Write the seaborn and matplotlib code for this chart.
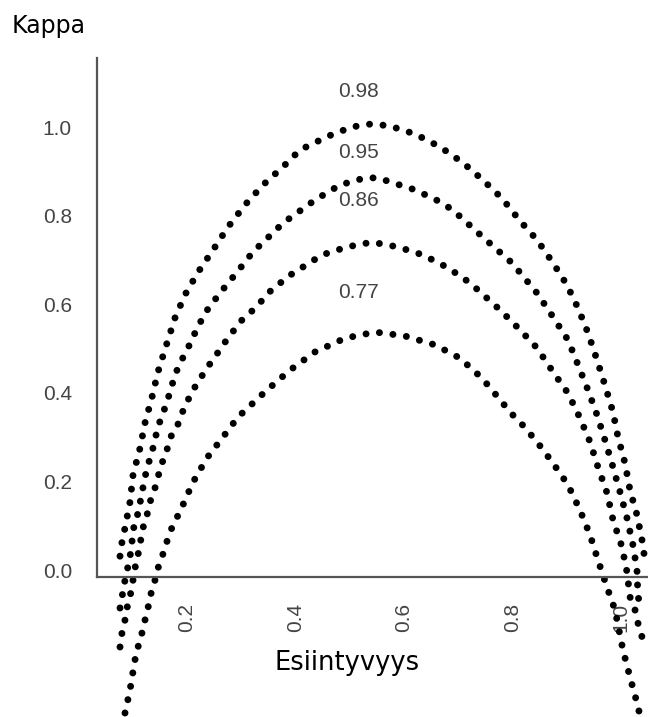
import matplotlib
matplotlib.use("Agg")
import matplotlib.pyplot as plt
from matplotlib.transforms import ScaledTranslation
import seaborn as sns
import pandas as pd

# ---------------- data ----------------
curve_labels = ["0.98", "0.95", "0.86", "0.77"]

prev_098 = [0.0765, 0.0802, 0.0857, 0.0949, 0.1005, 0.1134, 0.1226, 0.1355, 0.1465, 0.1631,
            0.1779, 0.1963, 0.2203, 0.2479, 0.2756, 0.3069, 0.3401, 0.3770, 0.4083, 0.4599,
            0.5041, 0.5410, 0.5742, 0.6203, 0.6664, 0.7088, 0.7456, 0.7806, 0.8138, 0.8452,
            0.8747, 0.9005, 0.9208, 0.9392, 0.9558, 0.9705, 0.9853, 0.9945, 1.0074, 1.0166,
            1.0295, 1.0387, 1.0442]
kappa_098 = [0.047, 0.079, 0.111, 0.169, 0.230, 0.291, 0.348, 0.406, 0.463, 0.528,
             0.585, 0.637, 0.688, 0.738, 0.790, 0.840, 0.885, 0.926, 0.964, 0.995,
             1.016, 1.023, 1.018, 1.000, 0.971, 0.935, 0.896, 0.855, 0.804, 0.761,
             0.709, 0.659, 0.607, 0.551, 0.490, 0.433, 0.372, 0.316, 0.257, 0.196,
             0.140, 0.084, 0.038]

prev_095 = [0.0765, 0.0802, 0.0857, 0.0949, 0.0986, 0.1005, 0.1078, 0.1134, 0.1226, 0.1281,
            0.1355, 0.1465, 0.1558, 0.1631, 0.1779, 0.1871, 0.2000, 0.2111, 0.2332, 0.2608,
            0.2922, 0.3217, 0.3585, 0.3770, 0.4359, 0.4820, 0.5281, 0.5521, 0.5742, 0.6203,
            0.6664, 0.6903, 0.7456, 0.7991, 0.8452, 0.8747, 0.9023, 0.9208, 0.9392, 0.9558,
            0.9705, 0.9853, 0.9982, 1.0111, 1.0221, 1.0295, 1.0313, 1.0406]
kappa_095 = [-0.070, -0.045, -0.007, 0.045, 0.079, 0.106, 0.135, 0.167, 0.226, 0.253,
             0.282, 0.339, 0.370, 0.395, 0.456, 0.483, 0.512, 0.542, 0.596, 0.641,
             0.688, 0.734, 0.777, 0.799, 0.851, 0.885, 0.901, 0.901, 0.892, 0.874,
             0.847, 0.828, 0.767, 0.709, 0.641, 0.587, 0.535, 0.479, 0.422, 0.366,
             0.309, 0.248, 0.192, 0.133, 0.072, 0.016, -0.045, -0.074]

prev_086 = [0.0765, 0.0802, 0.0857, 0.0894, 0.0949, 0.1005, 0.1041, 0.1097, 0.1189, 0.1263,
            0.1318, 0.1410, 0.1465, 0.1539, 0.1631, 0.1687, 0.1816, 0.1908, 0.2000, 0.2111,
            0.2369, 0.2516, 0.2664, 0.2829, 0.2977, 0.3161, 0.3346, 0.3493, 0.3677, 0.3843,
            0.4488, 0.4949, 0.5410, 0.5889, 0.6350, 0.6811, 0.7217, 0.7770, 0.8138, 0.8452,
            0.8747, 0.9023, 0.9244, 0.9429, 0.9576, 0.9742, 0.9853, 1.0018, 1.0111, 1.0166,
            1.0258, 1.0313, 1.0387]
kappa_086 = [-0.158, -0.126, -0.097, -0.070, -0.045, -0.007, 0.020, 0.050, 0.111, 0.140,
             0.169, 0.201, 0.226, 0.257, 0.287, 0.314, 0.339, 0.370, 0.395, 0.422,
             0.472, 0.497, 0.524, 0.551, 0.576, 0.596, 0.619, 0.641, 0.659, 0.677,
             0.727, 0.745, 0.756, 0.745, 0.727, 0.698, 0.664, 0.603, 0.558, 0.517,
             0.463, 0.415, 0.359, 0.305, 0.248, 0.190, 0.129, 0.068, 0.011, -0.045,
             -0.074, -0.104, -0.135]

prev_077 = [0.0857, 0.0949, 0.1041, 0.1097, 0.1171, 0.1226, 0.1281, 0.1318, 0.1410, 0.1465,
            0.1539, 0.1687, 0.1908, 0.2111, 0.2369, 0.2664, 0.2940, 0.3438, 0.3899, 0.4359,
            0.4912, 0.5465, 0.6018, 0.6571, 0.7032, 0.7438, 0.7806, 0.7955, 0.8138, 0.8452,
            0.8747, 0.9023, 0.9244, 0.9429, 0.9576, 0.9650, 0.9742, 0.9889, 1.0037, 1.0166,
            1.0295, 1.0350]
kappa_077 = [-0.307, -0.255, -0.187, -0.158, -0.126, -0.097, -0.070, -0.045, -0.007, 0.020,
             0.045, 0.102, 0.158, 0.214, 0.269, 0.316, 0.361, 0.418, 0.467, 0.508,
             0.539, 0.553, 0.544, 0.524, 0.494, 0.449, 0.395, 0.372, 0.350, 0.305,
             0.257, 0.208, 0.151, 0.095, 0.038, 0.011, -0.023, -0.074, -0.165, -0.226,
             -0.284, -0.312]

x_ticks = [0.2, 0.4, 0.6, 0.8, 1.0]
x_tick_labels = ["0.2", "0.4", "0.6", "0.8", "1.0"]
y_ticks = [0.0, 0.2, 0.4, 0.6, 0.8, 1.0]
y_tick_labels = ["0.0", "0.2", "0.4", "0.6", "0.8", "1.0"]

x_title = "Esiintyvyys"
y_title = "Kappa"

# ---------------- figure ----------------
sns.set_style("white")
plt.rcParams["font.family"] = ["Liberation Sans", "DejaVu Sans"]

W, H = 648, 717
fig = plt.figure(figsize=(W / 100, H / 100), dpi=100)
ax = fig.add_axes([97 / W, 0.0, (W - 97) / W, (717 - 58) / H])

df = pd.concat([
    pd.DataFrame({"prev": prev_098, "kappa": kappa_098, "curve": curve_labels[0]}),
    pd.DataFrame({"prev": prev_095, "kappa": kappa_095, "curve": curve_labels[1]}),
    pd.DataFrame({"prev": prev_086, "kappa": kappa_086, "curve": curve_labels[2]}),
    pd.DataFrame({"prev": prev_077, "kappa": kappa_077, "curve": curve_labels[3]}),
])

for name in curve_labels:
    sub = df[df["curve"] == name]
    sns.lineplot(data=sub, x="prev", y="kappa", ax=ax, color="black",
                 linewidth=5.0, linestyle=(0, (0.01, 1.95)),
                 dash_capstyle="round", estimator=None, sort=False, legend=False)

ax.set_xlim(0.0341, 1.0498)
ax.set_ylim(-0.316, 1.1716)

# spines
for s in ["top", "right"]:
    ax.spines[s].set_visible(False)
ax.spines["bottom"].set_position(("data", 0))
ax.spines["left"].set_bounds(0, 1.1716)
for s in ["left", "bottom"]:
    ax.spines[s].set_color("#555555")
    ax.spines[s].set_linewidth(1.6)

ax.set_xticks(x_ticks)
ax.set_xticklabels(x_tick_labels, rotation=90)
ax.set_yticks(y_ticks)
ax.set_yticklabels(y_tick_labels)
ax.tick_params(axis="both", length=0, labelsize=15, labelcolor="#444444")
ax.tick_params(axis="x", pad=18.5)
ax.tick_params(axis="y", pad=18)
ax.set_xlabel("")
ax.set_ylabel("")

# y tick labels sit slightly above their gridline position in the reference
for lbl in ax.get_yticklabels():
    lbl.set_transform(lbl.get_transform() + ScaledTranslation(0, 7 / 100, fig.dpi_scale_trans))

# curve labels
label_pos_x = 0.5157
label_pos_y = [1.095, 0.959, 0.851, 0.643]
for name, yy in zip(curve_labels, label_pos_y):
    ax.text(label_pos_x, yy, name, ha="center", va="center", fontsize=15, color="#444444")

# axis titles
fig.text(12 / W, 1 - 33 / H, y_title, ha="left", va="baseline", fontsize=17,
         family=["DejaVu Sans"], color="black")
fig.text(347 / W, 1 - 670 / H, x_title, ha="center", va="baseline", fontsize=18.5,
         family=["DejaVu Sans"], color="black")

fig.savefig("out.png", dpi=100)
